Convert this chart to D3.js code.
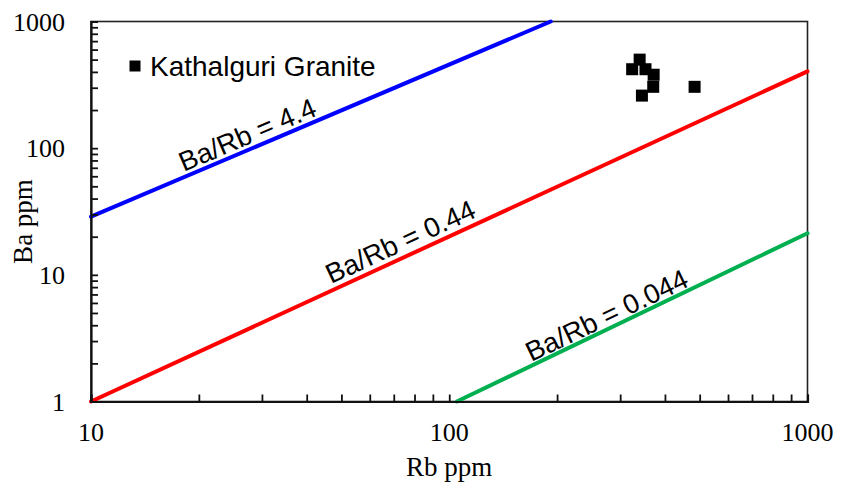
<!DOCTYPE html>
<html>
<head>
<meta charset="utf-8">
<script src="https://cdn.jsdelivr.net/npm/d3@7"></script>
<style>
  body { margin: 0; background: #fff; }
  svg { display: block; }
</style>
</head>
<body>
<svg id="chart"></svg>
<script>
// * data
const sampleName = 'Kathalguri Granite';
const rbValues = [340, 324, 353, 372, 371, 345, 484];
const baValues = [500, 420, 420, 380, 305, 260, 305];

// reference ratio lines: [Rb, Ba] at both ends
const lineLabels = ['Ba/Rb = 4.4', 'Ba/Rb = 0.44', 'Ba/Rb = 0.044'];
const lineColors = ['#0000ff', '#ff0000', '#00b050'];
const lineStart = [[10, 28.8], [10, 1], [105, 1]];
const lineEnd = [[192, 1000], [1000, 404], [1000, 21.3]];
// where the label sits (data coords, centre of text)
const labelAt = [[27.3, 128], [73, 18.3], [275, 4.8]];

const xTicks = [10, 100, 1000];
const yTicks = [1, 10, 100, 1000];

const width = 846;
const height = 489;
const margin = { top: 21.5, right: 38.5, bottom: 87.5, left: 91 };

const svg = d3.select('#chart')
  .attr('width', width)
  .attr('height', height);

const x = d3.scaleLog().domain([10, 1000]).range([margin.left, width - margin.right]);
const y = d3.scaleLog().domain([1, 1000]).range([height - margin.bottom, margin.top]);

// minor + major tick values
const minorX = [];
for (let d = 10; d < 1000; d *= 10) for (let k = 1; k < 10; k++) minorX.push(d * k);
minorX.push(1000);
const minorY = [];
for (let d = 1; d < 1000; d *= 10) for (let k = 1; k < 10; k++) minorY.push(d * k);
minorY.push(1000);

// frame
svg.append('rect')
  .attr('x', x(10)).attr('y', y(1000))
  .attr('width', x(1000) - x(10)).attr('height', y(1) - y(1000))
  .attr('fill', 'none').attr('stroke', '#222').attr('stroke-width', 1.6);

// ratio lines
const lines = svg.append('g').classed('ratio-lines', true);
lineLabels.forEach((lab, i) => {
  lines.append('line')
    .attr('x1', x(lineStart[i][0])).attr('y1', y(lineStart[i][1]))
    .attr('x2', x(lineEnd[i][0])).attr('y2', y(lineEnd[i][1]))
    .attr('stroke', lineColors[i])
    .attr('stroke-width', 4)
    .attr('stroke-linecap', 'round');

  const ang = Math.atan2(y(lineEnd[i][1]) - y(lineStart[i][1]), x(lineEnd[i][0]) - x(lineStart[i][0])) * 180 / Math.PI;
  const lx = x(labelAt[i][0]);
  const ly = y(labelAt[i][1]);
  lines.append('text')
    .text(lab)
    .attr('transform', `translate(${lx},${ly}) rotate(${ang})`)
    .attr('text-anchor', 'middle')
    .attr('dy', '0.35em')
    .style('font-family', 'Liberation Sans, Arial, sans-serif')
    .style('font-size', '27.5px')
    .attr('fill', '#000');
});

// axes (ticks pointing inside)
const xAxis = d3.axisTop(x).tickValues(minorX).tickSize(7).tickFormat('');
const yAxis = d3.axisRight(y).tickValues(minorY).tickSize(7).tickFormat('');

const xAxisDraw = svg.append('g')
  .attr('transform', `translate(0,${y(1)})`)
  .call(xAxis);
const yAxisDraw = svg.append('g')
  .attr('transform', `translate(${x(10)},0)`)
  .call(yAxis);
[xAxisDraw, yAxisDraw].forEach((g) => {
  g.select('.domain').attr('stroke', '#111').attr('stroke-width', 2.2);
  g.selectAll('.tick line').attr('stroke', '#111').attr('stroke-width', 1.8);
});

// tick labels
const tickFont = 'Liberation Serif, Times New Roman, serif';
svg.append('g').selectAll('text')
  .data(xTicks)
  .enter()
  .append('text')
  .text((d) => d)
  .attr('x', (d) => x(d))
  .attr('y', y(1) + 39)
  .attr('text-anchor', 'middle')
  .style('font-family', tickFont)
  .style('font-size', '26px');

svg.append('g').selectAll('text')
  .data(yTicks)
  .enter()
  .append('text')
  .text((d) => d)
  .attr('x', margin.left - 26)
  .attr('y', (d) => y(d))
  .attr('dy', '0.35em')
  .attr('text-anchor', 'end')
  .style('font-family', tickFont)
  .style('font-size', '26px');

// axis titles
svg.append('text')
  .text('Rb ppm')
  .attr('x', (x(10) + x(1000)) / 2)
  .attr('y', height - 13)
  .attr('text-anchor', 'middle')
  .style('font-family', tickFont)
  .style('font-size', '27px');

svg.append('text')
  .text('Ba ppm')
  .attr('transform', `translate(32,${(y(1) + y(1000)) / 2 + 10}) rotate(-90)`)
  .attr('text-anchor', 'middle')
  .style('font-family', tickFont)
  .style('font-size', '27px');

// data points
const pts = rbValues.map((r, i) => ({ rb: r, ba: baValues[i] }));
const size = 12;
svg.append('g')
  .selectAll('rect')
  .data(pts)
  .enter()
  .append('rect')
  .attr('x', (d) => x(d.rb) - size / 2)
  .attr('y', (d) => y(d.ba) - size / 2)
  .attr('width', size)
  .attr('height', size)
  .attr('fill', '#000');

// legend
const legend = svg.append('g').attr('transform', 'translate(135,66)');
legend.append('rect')
  .attr('x', -5.5).attr('y', -5.5)
  .attr('width', 11).attr('height', 11)
  .attr('fill', '#000');
legend.append('text')
  .text(sampleName)
  .attr('x', 15)
  .attr('dy', '0.35em')
  .style('font-family', 'Liberation Sans, Arial, sans-serif')
  .style('font-size', '28px');
</script>
</body>
</html>
